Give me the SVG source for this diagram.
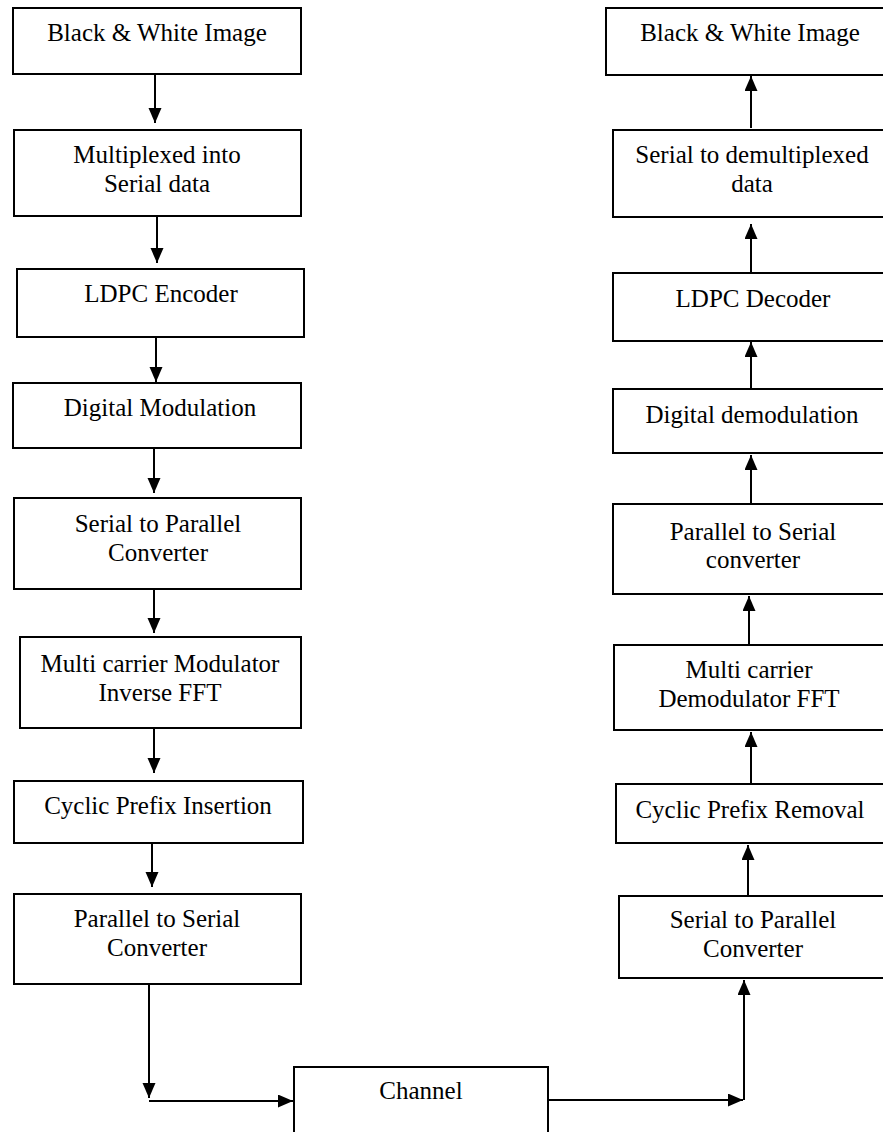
<svg xmlns="http://www.w3.org/2000/svg" width="883" height="1132" viewBox="0 0 883 1132">
<style>
.box{fill:#fff;stroke:#000;stroke-width:2}
.lbl{font-size:25px;fill:#000;text-anchor:middle}
.c{stroke:#000;stroke-width:2;fill:none}
</style>
<defs>
<marker id="ah" markerUnits="userSpaceOnUse" markerWidth="16" markerHeight="14" refX="15" refY="6.5" orient="auto">
<path d="M0,0 L15,6.5 L0,13 z" fill="#000"/>
</marker>
</defs>
<rect width="883" height="1132" fill="#fff"/>
<g font-family="'Liberation Serif', Tinos, 'Times New Roman', serif">
<g id="tx-bw"><rect class="box" x="13" y="8" width="288" height="66"/><text class="lbl" x="157" y="41">Black &amp; White Image</text></g>
<g id="tx-mux"><rect class="box" x="14" y="130" width="287" height="86"/><text class="lbl" x="157" y="163">Multiplexed into</text><text class="lbl" x="157" y="192">Serial data</text></g>
<g id="tx-ldpc"><rect class="box" x="17" y="269" width="287" height="68"/><text class="lbl" x="161" y="302">LDPC Encoder</text></g>
<g id="tx-mod"><rect class="box" x="13" y="383" width="288" height="65"/><text class="lbl" x="160" y="416">Digital Modulation</text></g>
<g id="tx-s2p"><rect class="box" x="14" y="498" width="287" height="91"/><text class="lbl" x="158" y="532">Serial to Parallel</text><text class="lbl" x="158" y="561">Converter</text></g>
<g id="tx-ifft"><rect class="box" x="20" y="637" width="281" height="91"/><text class="lbl" x="160" y="672">Multi carrier Modulator</text><text class="lbl" x="160" y="701">Inverse FFT</text></g>
<g id="tx-cp"><rect class="box" x="14" y="781" width="289" height="62"/><text class="lbl" x="158" y="814">Cyclic Prefix Insertion</text></g>
<g id="tx-p2s"><rect class="box" x="14" y="894" width="287" height="90"/><text class="lbl" x="157" y="927">Parallel to Serial</text><text class="lbl" x="157" y="956">Converter</text></g>
<g id="channel"><rect class="box" x="294" y="1067" width="254" height="80"/><text class="lbl" x="421" y="1099">Channel</text></g>
<g id="rx-bw"><rect class="box" x="606" y="8" width="290" height="67"/><text class="lbl" x="750" y="41">Black &amp; White Image</text></g>
<g id="rx-demux"><rect class="box" x="613" y="130" width="283" height="87"/><text class="lbl" x="752" y="163">Serial to demultiplexed</text><text class="lbl" x="752" y="192">data</text></g>
<g id="rx-ldpc"><rect class="box" x="613" y="273" width="283" height="68"/><text class="lbl" x="753" y="307">LDPC Decoder</text></g>
<g id="rx-demod"><rect class="box" x="613" y="389" width="283" height="64"/><text class="lbl" x="752" y="423">Digital demodulation</text></g>
<g id="rx-p2s"><rect class="box" x="613" y="504" width="283" height="90"/><text class="lbl" x="753" y="540">Parallel to Serial</text><text class="lbl" x="753" y="568">converter</text></g>
<g id="rx-fft"><rect class="box" x="614" y="645" width="282" height="85"/><text class="lbl" x="749" y="678">Multi carrier</text><text class="lbl" x="749" y="707">Demodulator FFT</text></g>
<g id="rx-cp"><rect class="box" x="616" y="784" width="280" height="59"/><text class="lbl" x="750" y="818">Cyclic Prefix Removal</text></g>
<g id="rx-s2p"><rect class="box" x="619" y="896" width="277" height="82"/><text class="lbl" x="753" y="928">Serial to Parallel</text><text class="lbl" x="753" y="957">Converter</text></g>
</g>
<g id="connectors">
<line class="c" x1="155" y1="75" x2="155" y2="123" marker-end="url(#ah)"/>
<line class="c" x1="157" y1="217" x2="157" y2="263" marker-end="url(#ah)"/>
<line class="c" x1="156" y1="338" x2="156" y2="382" marker-end="url(#ah)"/>
<line class="c" x1="154" y1="449" x2="154" y2="493" marker-end="url(#ah)"/>
<line class="c" x1="154" y1="590" x2="154" y2="633" marker-end="url(#ah)"/>
<line class="c" x1="154" y1="729" x2="154" y2="773" marker-end="url(#ah)"/>
<line class="c" x1="152" y1="844" x2="152" y2="887" marker-end="url(#ah)"/>
<line class="c" x1="149" y1="985" x2="149" y2="1098" marker-end="url(#ah)"/>
<line class="c" x1="149" y1="1101" x2="293" y2="1101" marker-end="url(#ah)"/>
<line class="c" x1="549" y1="1100" x2="743" y2="1100" marker-end="url(#ah)"/>
<line class="c" x1="744" y1="1100" x2="744" y2="980" marker-end="url(#ah)"/>
<line class="c" x1="748" y1="895" x2="748" y2="845" marker-end="url(#ah)"/>
<line class="c" x1="751" y1="783" x2="751" y2="732" marker-end="url(#ah)"/>
<line class="c" x1="749" y1="644" x2="749" y2="596" marker-end="url(#ah)"/>
<line class="c" x1="751" y1="503" x2="751" y2="455" marker-end="url(#ah)"/>
<line class="c" x1="751" y1="388" x2="751" y2="342" marker-end="url(#ah)"/>
<line class="c" x1="751" y1="272" x2="751" y2="224" marker-end="url(#ah)"/>
<line class="c" x1="751" y1="128" x2="751" y2="76" marker-end="url(#ah)"/>
</g>
</svg>
